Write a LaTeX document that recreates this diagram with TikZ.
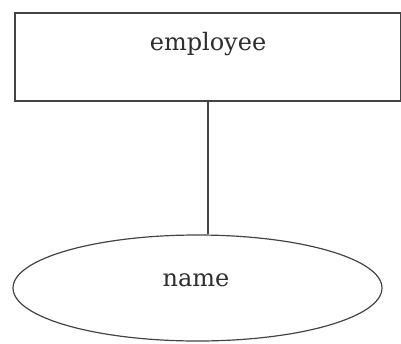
\documentclass[tikz,border=0pt]{standalone}
\usepackage{fontspec}
\setmainfont{DejaVu Serif}
\usetikzlibrary{shapes.geometric}
\definecolor{ink}{HTML}{444444}
\definecolor{txt}{HTML}{2E2E2E}
\begin{document}
\begin{tikzpicture}[x=1pt,y=-1pt,
  entity/.style={draw=ink,line width=1.3pt,minimum width=386pt,minimum height=88pt,inner sep=0pt},
  attr/.style={draw=ink,line width=1.2pt,ellipse,minimum width=369pt,minimum height=106pt,inner sep=0pt},
  lbl/.style={font=\fontsize{24}{28}\selectfont,text=txt,inner sep=0pt},
  link/.style={draw=ink,line width=1.3pt}]
\useasboundingbox (0,0) rectangle (401,343);
\node[entity] (emp) at (208,57) {};
\node[lbl] (empt) at (208,44) {employee};
\node[attr] (name) at (197.5,288) {};
\node[lbl] (namet) at (196,280) {name};
\draw[link] (emp.south) -- (emp.south |- name.north);
\end{tikzpicture}
\end{document}
